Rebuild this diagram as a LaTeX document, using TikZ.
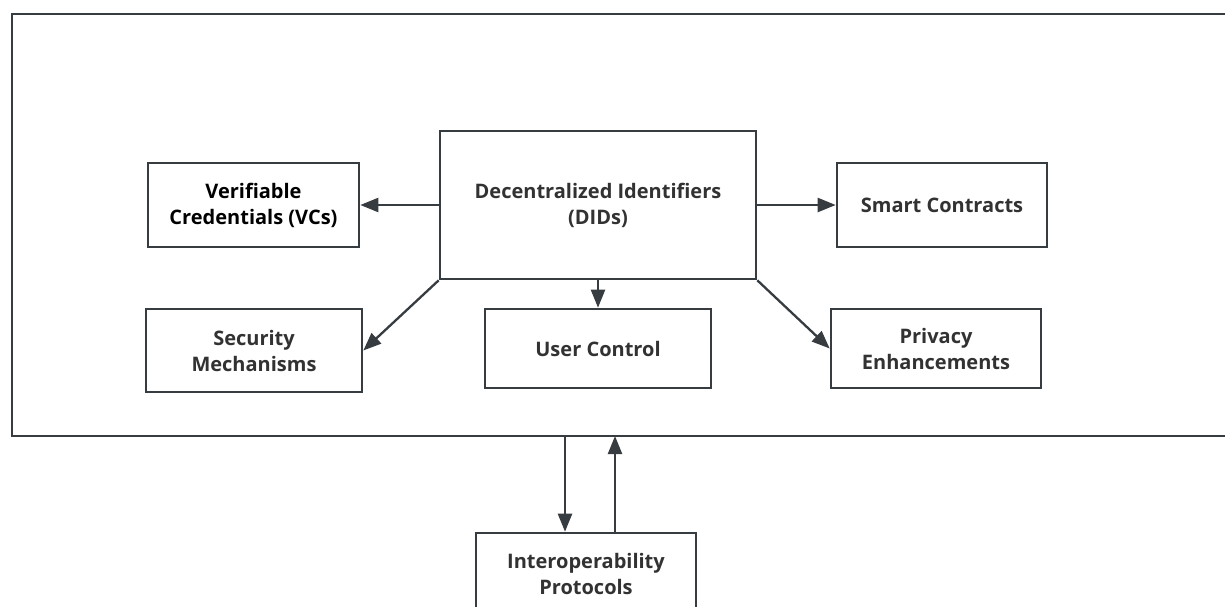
\documentclass[tikz,border=0pt]{standalone}
\usepackage{fontspec}
\setmainfont{Open Sans}
\usetikzlibrary{arrows.meta,positioning}
\definecolor{linegray}{RGB}{55,60,65}
\definecolor{textgray}{RGB}{50,50,50}

\begin{document}
\begin{tikzpicture}[x=1pt,y=-1pt,
    box/.style={draw=linegray,line width=2.6pt,fill=white,inner sep=0pt,align=center,
        text=textgray,font=\fontsize{20}{26}\selectfont\bfseries},
    link/.style={draw=linegray,line width=2.3pt,-{Triangle[length=18pt,width=14pt]}}]
    \clip (0,0) rectangle (1225,606);
    \begin{scope} % Outer frame (runs past the right edge)
        \draw[linegray,line width=2.6pt] (1300,436) -- (12,436) -- (12,14) -- (1300,14);
        \coordinate (fdown) at (565,436);
        \coordinate (fup) at (615,436);
    \end{scope}
    \begin{scope} % Boxes inside the frame
        \node[box,minimum width=316pt,minimum height=148pt] (dids) at (598,205) {Decentralized Identifiers\\(DIDs)};
        \node[box,minimum width=211pt,minimum height=84pt,text=black] (vcs) at (253.5,205) {Verifiable\\Credentials (VCs)};
        \node[box,minimum width=210pt,minimum height=84pt] (smart) at (942,205) {Smart Contracts};
        \node[box,minimum width=216pt,minimum height=83pt] (sec) at (254,350.5) {Security\\Mechanisms};
        \node[box,minimum width=226pt,minimum height=79pt] (user) at (598,348.5) {User Control};
        \node[box,minimum width=210pt,minimum height=79pt] (priv) at (936,348.5) {Privacy\\Enhancements};
    \end{scope}
    % Box below the frame (cut off at the bottom)
    \node[box,minimum width=220pt,minimum height=82pt] (interop) at (586,574) {Interoperability\\Protocols};

    % Arrows out of the DIDs box
    \draw[link] (dids.west) -- (vcs.east);
    \draw[link] (dids.east) -- (smart.east -| smart.west);
    \draw[link] (dids.south west) -- (sec.east);
    \draw[link] (dids.south) -- (user.north);
    \draw[link] (dids.south east) -- (priv.west);

    % Frame <-> interoperability protocols
    \draw[link] (fdown) -- (fdown |- interop.north);
    \draw[link] (fup |- interop.north) -- (fup);
\end{tikzpicture}
\end{document}
